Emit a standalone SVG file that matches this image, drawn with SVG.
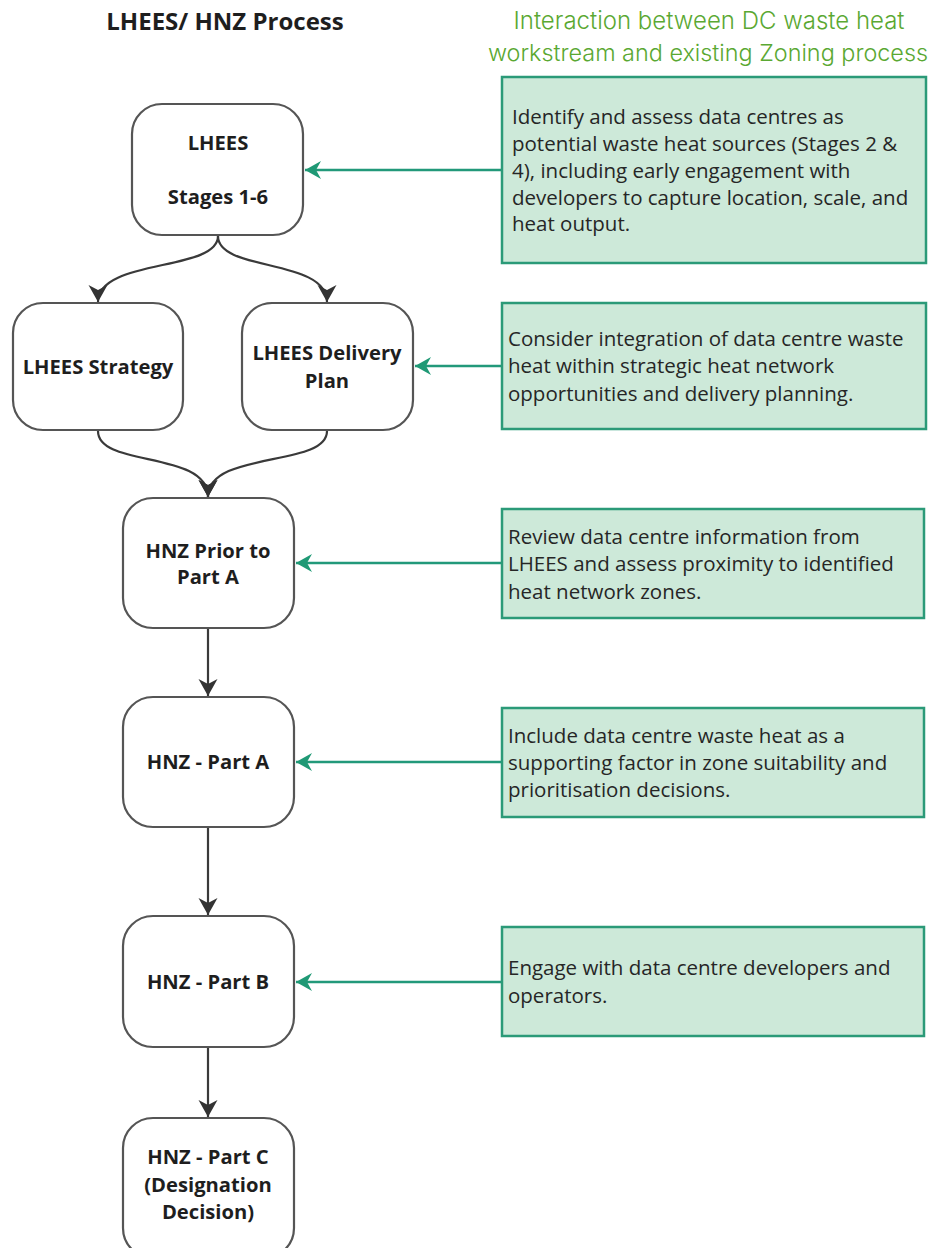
<svg xmlns="http://www.w3.org/2000/svg" width="936" height="1248" viewBox="0 0 936 1248">
<defs>
<style>
.node rect{fill:#ffffff;stroke:#555555;stroke-width:2.2}
.node text{font-family:"Open Sans","Noto Sans",sans-serif;font-weight:700;font-size:20.2px;fill:#1e1e1e;text-anchor:middle}
.note rect{fill:#cde9d9;stroke:#2b9a78;stroke-width:2.5}
.note text{font-family:"Open Sans","Noto Sans",sans-serif;font-size:20.5px;fill:#262626}
.flow{fill:none;stroke:#3a3a3a;stroke-width:2.2}
.feed{fill:none;stroke:#22997a;stroke-width:2.5}
.title{font-family:"Open Sans","Noto Sans",sans-serif;font-weight:700;font-size:24px;fill:#1e1e1e;text-anchor:middle}
.header{font-family:Inter,"Open Sans",sans-serif;font-weight:300;font-size:24px;fill:#5aa832;text-anchor:middle}
</style>
<marker id="ab" markerUnits="userSpaceOnUse" viewBox="-20 -11 22 22" refX="0" refY="0" markerWidth="22" markerHeight="22" orient="auto">
<path d="M0,0 L-17,-9.5 L-12,0 L-17,9.5 Z" fill="#333333"/>
</marker>
<marker id="ag" markerUnits="userSpaceOnUse" viewBox="-20 -11 22 22" refX="0" refY="0" markerWidth="22" markerHeight="22" orient="auto">
<path d="M0,0 L-16,-9 L-11,0 L-16,9 Z" fill="#1f9975"/>
</marker>
</defs>
<rect width="936" height="1248" fill="#ffffff"/>

<text class="title" x="225" y="30">LHEES/ HNZ Process</text>
<text class="header" x="709" y="29">Interaction between DC waste heat</text>
<text class="header" x="708" y="61" style="font-size:23.4px">workstream and existing Zoning process</text>

<g id="connectors">
<path class="flow" d="M218,236 C218,272 98,258 98,302" marker-end="url(#ab)"/>
<path class="flow" d="M218,236 C218,272 327,258 327,302" marker-end="url(#ab)"/>
<path class="flow" d="M98,431 C98,468 208,450 208,497" marker-end="url(#ab)"/>
<path class="flow" d="M327,431 C327,468 208,450 208,497" marker-end="url(#ab)"/>
<path class="flow" d="M208,629 L208,696" marker-end="url(#ab)"/>
<path class="flow" d="M208,828 L208,915" marker-end="url(#ab)"/>
<path class="flow" d="M208,1048 L208,1117" marker-end="url(#ab)"/>
<path class="feed" d="M502,170 L305,170" marker-end="url(#ag)"/>
<path class="feed" d="M502,366 L415,366" marker-end="url(#ag)"/>
<path class="feed" d="M502,563 L296,563" marker-end="url(#ag)"/>
<path class="feed" d="M502,762 L296,762" marker-end="url(#ag)"/>
<path class="feed" d="M502,982 L296,982" marker-end="url(#ag)"/>
</g>

<g id="node-lhees" class="node">
<rect x="132" y="104" width="171" height="131" rx="30"/>
<text x="218" y="150">LHEES</text>
<text x="218" y="204">Stages 1-6</text>
</g>
<g id="node-strategy" class="node">
<rect x="13" y="303" width="170" height="127" rx="30"/>
<text x="98" y="374">LHEES Strategy</text>
</g>
<g id="node-delivery" class="node">
<rect x="242" y="303" width="171" height="127" rx="30"/>
<text x="327" y="360">LHEES Delivery</text>
<text x="327" y="388">Plan</text>
</g>
<g id="node-prior" class="node">
<rect x="123" y="498" width="171" height="130" rx="30"/>
<text x="208" y="558">HNZ Prior to</text>
<text x="208" y="584">Part A</text>
</g>
<g id="node-parta" class="node">
<rect x="123" y="697" width="171" height="130" rx="30"/>
<text x="208" y="769">HNZ - Part A</text>
</g>
<g id="node-partb" class="node">
<rect x="123" y="916" width="171" height="131" rx="30"/>
<text x="208" y="989">HNZ - Part B</text>
</g>
<g id="node-partc" class="node">
<rect x="123" y="1118" width="171" height="140" rx="30"/>
<text x="208" y="1164">HNZ - Part C</text>
<text x="208" y="1192">(Designation</text>
<text x="208" y="1219">Decision)</text>
</g>

<g id="note-1" class="note">
<rect x="502" y="77" width="424" height="186"/>
<text x="512" y="124">Identify and assess data centres as</text>
<text x="512" y="151">potential waste heat sources (Stages 2 &amp;</text>
<text x="512" y="178">4), including early engagement with</text>
<text x="512" y="205">developers to capture location, scale, and</text>
<text x="512" y="231">heat output.</text>
</g>
<g id="note-2" class="note">
<rect x="502" y="303" width="424" height="126"/>
<text x="508" y="346">Consider integration of data centre waste</text>
<text x="508" y="373">heat within strategic heat network</text>
<text x="508" y="401">opportunities and delivery planning.</text>
</g>
<g id="note-3" class="note">
<rect x="502" y="509" width="422" height="109"/>
<text x="508" y="544">Review data centre information from</text>
<text x="508" y="571">LHEES and assess proximity to identified</text>
<text x="508" y="599">heat network zones.</text>
</g>
<g id="note-4" class="note">
<rect x="502" y="708" width="422" height="109"/>
<text x="508" y="743">Include data centre waste heat as a</text>
<text x="508" y="770">supporting factor in zone suitability and</text>
<text x="508" y="797">prioritisation decisions.</text>
</g>
<g id="note-5" class="note">
<rect x="502" y="927" width="422" height="109"/>
<text x="508" y="975">Engage with data centre developers and</text>
<text x="508" y="1003">operators.</text>
</g>
</svg>
